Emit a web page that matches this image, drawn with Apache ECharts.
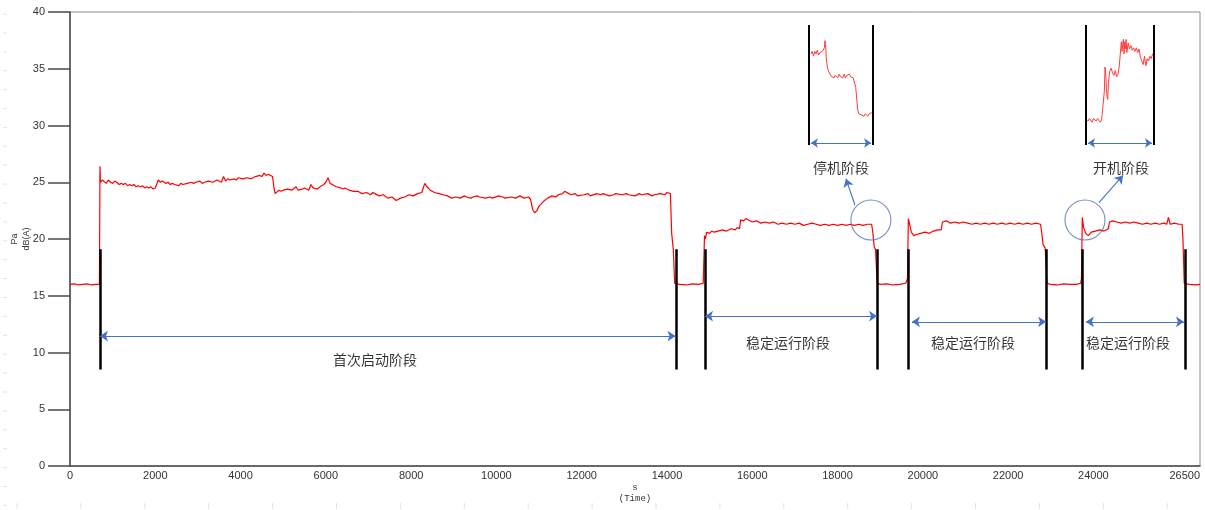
<!DOCTYPE html>
<html>
<head>
<meta charset="utf-8">
<script src="https://cdn.jsdelivr.net/npm/echarts@6/dist/echarts.min.js"></script>
<style>
html,body{margin:0;padding:0;background:#fff;}
#c{width:1205px;height:510px;}
</style>
</head>
<body>
<div id="c"></div>
<script>
// ---------- DATA ----------
const xTicksMax = 26500;
const yTickLabels = [0,5,10,15,20,25,30,35,40];

// [time s, level dB(A)]
const idleStart = [[0,16.0],[100,16.05],[200,15.95],[300,16.0],[400,16.05],[500,15.95],[600,16.0],[690,16.0]];
const firstStart = [[703,26.4],[715,25.0],[760,25.2],[800,25.3],[850,24.9],[900,25.2],[950,25.0],[1000,24.9],[1050,25.1],[1100,25.0],[1150,24.8],[1200,24.9],[1250,24.8],[1300,24.9],[1350,24.7],[1400,24.8],[1450,24.7],[1500,24.8],[1550,24.6],[1600,24.7],[1650,24.6],[1700,24.7],[1750,24.5],[1800,24.6],[1850,24.5],[1900,24.6],[1950,24.4],[2000,24.5],[2040,24.4],[2070,25.2],[2120,25.0],[2170,25.1],[2250,24.9],[2300,25.0],[2350,24.8],[2400,24.9],[2450,24.8],[2550,24.7],[2600,24.9],[2650,24.8],[2750,24.9],[2850,25.0],[2900,24.9],[2950,25.0],[3050,25.1],[3100,24.9],[3150,25.0],[3250,25.1],[3350,25.0],[3450,25.2],[3550,25.0],[3600,25.5],[3650,25.1],[3700,25.3],[3750,25.2],[3850,25.3],[3900,25.2],[3950,25.4],[4050,25.3],[4150,25.4],[4250,25.3],[4350,25.5],[4450,25.6],[4500,25.5],[4550,25.8],[4600,25.6],[4650,25.7],[4700,25.6],[4750,25.5],[4780,24.6],[4810,24.0],[4900,24.3],[4950,24.2],[5000,24.3],[5100,24.4],[5200,24.3],[5300,24.6],[5350,24.3],[5450,24.4],[5500,24.5],[5600,24.3],[5650,24.8],[5700,24.5],[5800,24.4],[5900,24.7],[5950,24.8],[6000,25.0],[6050,25.4],[6100,24.9],[6150,24.8],[6250,24.6],[6350,24.5],[6400,24.4],[6450,24.5],[6550,24.3],[6650,24.2],[6750,24.2],[6850,24.0],[6950,24.1],[7050,23.9],[7100,24.1],[7150,24.0],[7250,23.8],[7350,23.9],[7450,23.6],[7550,23.7],[7650,23.4],[7750,23.6],[7850,23.7],[7950,23.9],[8050,23.8],[8150,24.0],[8250,24.1],[8320,24.9],[8370,24.6],[8450,24.3],[8550,24.1],[8650,24.0],[8750,23.9],[8850,23.8],[8950,23.6],[9050,23.7],[9150,23.6],[9250,23.8],[9300,23.7],[9400,23.6],[9450,23.7],[9550,23.8],[9600,23.7],[9750,23.6],[9850,23.7],[9900,23.6],[10050,23.8],[10150,23.7],[10200,23.6],[10350,23.7],[10450,23.6],[10550,23.8],[10650,23.6],[10750,23.7],[10800,23.5],[10850,22.6],[10900,22.3],[10950,22.5],[11000,22.9],[11100,23.3],[11200,23.6],[11300,23.8],[11400,23.7],[11450,23.9],[11550,24.0],[11600,24.2],[11700,24.0],[11750,23.9],[11850,24.0],[11900,23.8],[12050,23.9],[12150,24.0],[12200,23.8],[12350,24.0],[12450,23.9],[12500,24.0],[12650,23.8],[12750,23.9],[12800,24.0],[12950,23.9],[13050,24.0],[13100,23.9],[13250,23.8],[13350,24.0],[13400,23.9],[13550,24.0],[13650,23.8],[13700,23.9],[13850,24.0],[13950,23.9],[14000,24.1],[14080,24.0],[14110,20.5],[14150,19.0],[14180,16.1]];
const idleA = [[14300,16.0],[14450,15.95],[14600,16.05],[14750,16.0],[14850,16.1]];
const steady1 = [[14880,20.3],[14900,20.0],[14930,20.6],[15000,20.5],[15050,20.7],[15100,20.6],[15200,20.7],[15300,20.8],[15400,20.7],[15500,20.9],[15600,20.8],[15650,21.0],[15700,20.9],[15730,21.7],[15800,21.6],[15850,21.8],[15900,21.7],[16000,21.5],[16100,21.6],[16200,21.4],[16300,21.5],[16400,21.4],[16500,21.5],[16600,21.3],[16700,21.4],[16800,21.3],[16900,21.4],[17000,21.3],[17100,21.4],[17200,21.2],[17300,21.3],[17400,21.4],[17500,21.3],[17600,21.2],[17700,21.3],[17800,21.2],[17900,21.3],[18000,21.2],[18100,21.3],[18200,21.2],[18300,21.3],[18400,21.2],[18500,21.3],[18600,21.2],[18700,21.3],[18800,21.3],[18830,20.5],[18860,19.3],[18890,19.1],[18930,16.1]];
const idleB = [[19000,16.0],[19150,16.05],[19300,15.95],[19450,16.0],[19600,16.1],[19640,16.5]];
const steady2 = [[19660,21.8],[19690,21.3],[19730,20.6],[19790,20.3],[19850,20.4],[19950,20.5],[20050,20.6],[20150,20.5],[20250,20.7],[20350,20.8],[20430,20.8],[20460,21.5],[20550,21.6],[20650,21.4],[20750,21.5],[20850,21.4],[20950,21.5],[21050,21.4],[21150,21.3],[21250,21.4],[21350,21.3],[21450,21.4],[21550,21.3],[21650,21.4],[21750,21.3],[21850,21.4],[21950,21.3],[22050,21.4],[22150,21.3],[22250,21.4],[22350,21.3],[22450,21.4],[22550,21.3],[22650,21.4],[22760,21.3],[22790,20.5],[22820,19.5],[22870,19.2],[22910,16.1]];
const idleC = [[23000,16.0],[23150,15.95],[23300,16.05],[23450,16.0],[23600,16.0],[23700,16.1],[23720,16.5]];
const steady3 = [[23740,21.9],[23770,21.0],[23820,20.5],[23880,20.3],[23950,20.6],[24050,20.7],[24150,20.8],[24250,20.7],[24350,20.9],[24380,21.5],[24450,21.6],[24550,21.5],[24650,21.4],[24750,21.5],[24850,21.4],[24950,21.5],[25050,21.4],[25150,21.3],[25250,21.4],[25350,21.3],[25450,21.4],[25550,21.3],[25650,21.4],[25720,21.3],[25760,21.9],[25800,21.3],[25900,21.4],[26000,21.3],[26080,21.3],[26100,20.0],[26130,16.1]];
const idleEnd = [[26250,16.0],[26400,15.95],[26500,16.0]];

// inset zooms (normalised 0-100 units)
const stopZoom = [[3,76],[5,78],[7,74],[9,78],[11,76],[13,79],[15,75],[17,77],[19,76],[21,78],[23,77],[24,81],[25,87],[26,84],[27,72],[29,64],[31,61],[33,59],[35,57],[37,58],[39,56],[41,58],[43,57],[45,56],[47,59],[49,57],[51,58],[53,56],[55,59],[57,56],[59,58],[61,57],[63,59],[65,57],[67,58],[69,56],[71,57],[72,55],[73,48],[75,36],[76,30],[78,26],[80,27],[82,25],[84,26],[86,24],[88,26],[90,25],[92,24],[94,26],[96,25],[98,27]];
const startZoom = [[0,21],[3,20],[5,22],[7,21],[9,19],[11,22],[13,21],[15,20],[17,22],[19,21],[21,19],[23,21],[25,22],[27,45],[28,65],[29,60],[30,47],[31,40],[32,38],[33,52],[35,62],[37,64],[39,60],[41,58],[43,62],[45,57],[47,59],[49,66],[51,80],[52,86],[53,78],[54,84],[55,88],[56,76],[57,86],[58,80],[59,88],[60,77],[62,85],[64,80],[66,83],[68,79],[70,81],[72,78],[74,81],[76,77],[78,80],[80,73],[82,74],[84,67],[86,74],[88,66],[90,72],[92,70],[94,74],[96,72],[98,76]];

// annotations (data units)
const phaseLines = [703, 14212, 14892, 18926, 19652, 22900, 23733, 26160];
const phaseArrows = [[703,14200,11.45],[14892,18926,13.2],[19745,22890,12.7],[23825,26123,12.7]];
const phaseLabels = [['首次启动阶段',7152,9.4],['稳定运行阶段',16837,10.85],['稳定运行阶段',21175,10.85],['稳定运行阶段',24810,10.85],['停机阶段',18080,26.25],['开机阶段',24646,26.25]];
const focusCircles = [[18783,21.67],[23802,21.67]];
const pointerLines = [[[18408,23.0],[18197,25.3]],[[24130,23.2],[24693,25.6]]];

// ---------- CHART ----------
const level = [].concat(idleStart, firstStart, idleA, steady1, idleB, steady2, idleC, steady3, idleEnd);
const blue = '#4472C4';
const chart = echarts.init(document.getElementById('c'));

function insetMarks() {
  return {
    silent: true, symbol: 'none', label: {show: false},
    lineStyle: {color: '#000', width: 2, type: 'solid'},
    data: [
      [{coord: [0, 0]}, {coord: [0, 100]}],
      [{coord: [100, 0]}, {coord: [100, 100]}],
      [{coord: [3, 1.7], symbol: 'arrow', symbolSize: 7, lineStyle: {color: blue, width: 1.2}},
       {coord: [97, 1.7], symbol: 'arrow', symbolSize: 7}]
    ]
  };
}

const rulerGraphics = [];
for (let y = 14; y < 510; y += 18.9) rulerGraphics.push({type:'line', shape:{x1:3,y1:y,x2:7,y2:y}, style:{stroke:'#e2e2e2', lineWidth:1}, silent:true});
for (let x = 17; x < 1205; x += 63.9) rulerGraphics.push({type:'line', shape:{x1:x,y1:503,x2:x,y2:509}, style:{stroke:'#e2e2e2', lineWidth:1}, silent:true});

const option = {
  animation: false,
  backgroundColor: '#fff',
  graphic: rulerGraphics,
  grid: [
    {left: 70, right: 5, top: 12, bottom: 44, show: true, borderColor: '#8c8c8c', borderWidth: 1, backgroundColor: 'transparent', outerBoundsMode: 'none', containLabel: false},
    {left: 805.8, top: 19, width: 70.4, height: 132, outerBoundsMode: 'none'},
    {left: 1082.6, top: 19, width: 74.8, height: 132, outerBoundsMode: 'none'}
  ],
  xAxis: [
    {type: 'value', gridIndex: 0, min: 0, max: xTicksMax, interval: 2000,
     name: 's\n(Time)', nameLocation: 'middle', nameGap: 16, nameMoveOverlap: false,
     nameTextStyle: {fontFamily: 'Liberation Mono', fontSize: 9, color: '#333', lineHeight: 11},
     axisLine: {show: true, lineStyle: {color: '#4a4a4a', width: 1.5}},
     axisTick: {show: false},
     axisLabel: {margin: 4, fontSize: 11, color: '#333', fontFamily: 'Liberation Sans', alignMaxLabel: 'right', showMaxLabel: true,
       formatter: v => (v === 26000 ? '' : String(v))},
     splitLine: {show: false}},
    {type: 'value', gridIndex: 1, min: -5, max: 105, show: false},
    {type: 'value', gridIndex: 2, min: -5, max: 105, show: false}
  ],
  yAxis: [
    {type: 'value', gridIndex: 0, min: 0, max: 40, interval: 5,
     name: 'Pa\ndB(A)', nameLocation: 'middle', nameRotate: 90, nameGap: 37, nameMoveOverlap: false,
     nameTextStyle: {fontFamily: 'Liberation Sans', fontSize: 9, color: '#333', lineHeight: 12},
     axisLine: {show: true, lineStyle: {color: '#4a4a4a', width: 1.5}},
     axisTick: {show: true, length: 22, lineStyle: {color: '#4a4a4a', width: 1.5}},
     axisLabel: {margin: 25, fontSize: 11, color: '#333', fontFamily: 'Liberation Sans',
       formatter: v => (yTickLabels.indexOf(v) >= 0 ? String(v) : '')},
     splitLine: {show: false}},
    {type: 'value', gridIndex: 1, min: -5, max: 105, show: false},
    {type: 'value', gridIndex: 2, min: -5, max: 105, show: false}
  ],
  series: [
    {type: 'line', name: 'level', xAxisIndex: 0, yAxisIndex: 0, data: level, symbol: 'none',
     lineStyle: {color: '#ff0000', width: 1.2}, z: 2},
    {type: 'line', name: 'phases', xAxisIndex: 0, yAxisIndex: 0, data: [], z: 5,
     markLine: {
       silent: true, symbol: 'none', label: {show: false}, animation: false,
       data: [].concat(
         phaseLines.map(t => [{coord: [t, 8.5], lineStyle: {color: '#000', width: 2.5, type: 'solid'}}, {coord: [t, 19.1]}]),
         phaseArrows.map(a => [{coord: [a[0], a[2]], symbol: 'arrow', symbolSize: 8, lineStyle: {color: blue, width: 1.2, type: 'solid'}},
                               {coord: [a[1], a[2]], symbol: 'arrow', symbolSize: 8}]),
         pointerLines.map(p => [{coord: p[0], symbol: 'none', lineStyle: {color: blue, width: 1.1, type: 'solid'}},
                                {coord: p[1], symbol: 'arrow', symbolSize: 8}])
       )
     }},
    {type: 'scatter', name: 'circles', xAxisIndex: 0, yAxisIndex: 0, data: focusCircles, symbol: 'circle', symbolSize: 40, z: 6,
     itemStyle: {color: 'rgba(0,0,0,0)', borderColor: '#5471b0', borderWidth: 1.1}, silent: true},
    {type: 'scatter', name: 'labels', xAxisIndex: 0, yAxisIndex: 0, symbolSize: 1, z: 7, silent: true,
     itemStyle: {color: 'rgba(0,0,0,0)'},
     data: phaseLabels.map(l => ({name: l[0], value: [l[1], l[2]]})),
     label: {show: true, position: 'inside', formatter: p => p.name, color: '#000', fontSize: 14,
             fontFamily: 'Noto Sans CJK SC'}},
    {type: 'line', name: 'stopZoom', xAxisIndex: 1, yAxisIndex: 1, data: stopZoom, symbol: 'none',
     lineStyle: {color: '#ff3b3b', width: 1}, markLine: insetMarks()},
    {type: 'line', name: 'startZoom', xAxisIndex: 2, yAxisIndex: 2, data: startZoom, symbol: 'none',
     lineStyle: {color: '#ff3b3b', width: 1}, markLine: insetMarks()}
  ]
};
chart.setOption(option);
</script>
</body>
</html>
